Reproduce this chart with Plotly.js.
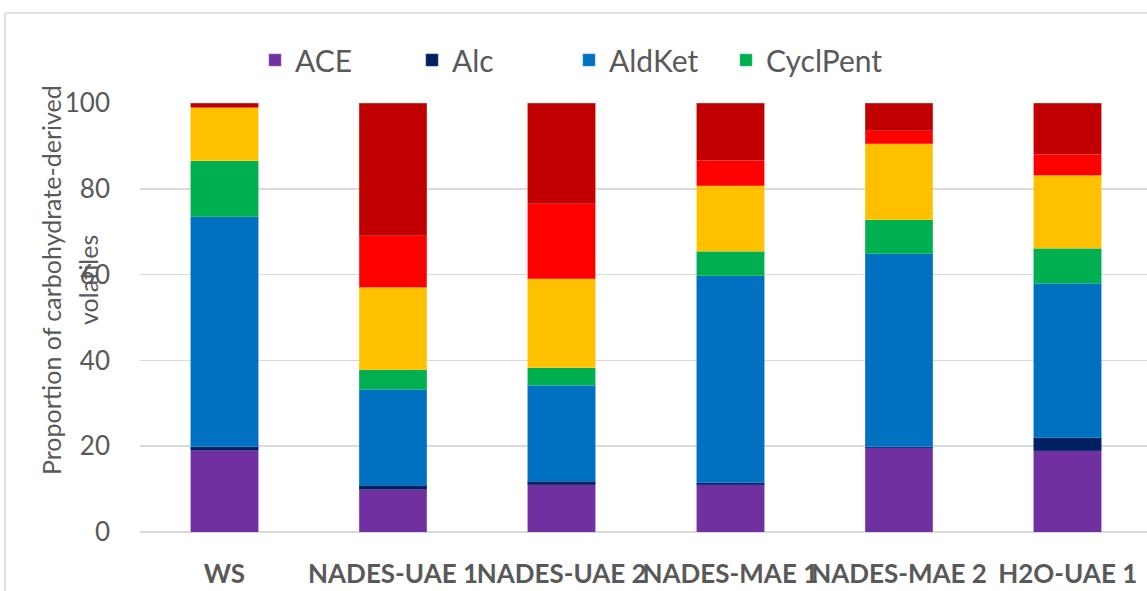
<!DOCTYPE html>
<html><head><meta charset="utf-8">
<script src="https://cdn.plot.ly/plotly-3.0.1.min.js"></script>
<style>html,body{margin:0;padding:0;background:#fff;overflow:hidden}#chart{width:1147px;height:591px}</style>
</head><body><div id="chart"></div>
<script>
const categories = ['WS', 'NADES-UAE 1', 'NADES-UAE 2', 'NADES-MAE 1', 'NADES-MAE 2', 'H2O-UAE 1'];
const ACE      = [19.1, 10.0, 11.0, 11.0, 19.6, 18.9];
const Alc      = [0.8, 0.9, 0.8, 0.5, 0.3, 3.1];
const AldKet   = [53.6, 22.4, 22.4, 48.2, 45.0, 36.0];
const CyclPent = [13.0, 4.5, 4.1, 5.8, 7.9, 8.2];
const Other1   = [12.5, 19.3, 20.7, 15.2, 17.7, 17.0];
const Other2   = [0.0, 12.0, 17.5, 5.9, 3.0, 4.8];
const Other3   = [1.0, 30.9, 23.5, 13.4, 6.5, 12.0];
const yTicks   = [0, 20, 40, 60, 80, 100];

const series = [
  {name:'ACE', y:ACE, color:'#7030A0', line:'#9a6cc0', legend:true},
  {name:'Alc', y:Alc, color:'#002060', line:'#2a4a8a', legend:true},
  {name:'AldKet', y:AldKet, color:'#0070C0', line:'#3a93d6', legend:true},
  {name:'CyclPent', y:CyclPent, color:'#00B050', line:'#40c880', legend:true},
  {name:'Other1', y:Other1, color:'#FFC000', line:'#ffd24d', legend:false},
  {name:'Other2', y:Other2, color:'#FF0000', line:'#ff5a5a', legend:false},
  {name:'Other3', y:Other3, color:'#C00000', line:'#d84a4a', legend:false}
];

const traces = series.map(s => ({
  type:'bar', name:s.name, x:categories, y:s.y, width:0.4,
  marker:{color:s.color, line:{color:s.line, width:0.6}},
  showlegend:s.legend, hoverinfo:'name+y'
}));

const W = 1007, H = 429;
const px = v => (v - 140) / W;
const py = v => (532 - v) / H;

const layout = {
  width:1147, height:591,
  margin:{l:140, r:0, t:103, b:59, pad:0},
  paper_bgcolor:'#ffffff', plot_bgcolor:'#ffffff',
  barmode:'stack', bargap:0.6,
  font:{family:'Lato, "Open Sans", sans-serif', color:'#595959'},
  showlegend:true,
  legend:{orientation:'h', x:px(255), y:py(60), xanchor:'left', yanchor:'middle',
    font:{size:30, color:'#595959', family:'Lato, sans-serif'},
    entrywidth:112, entrywidthmode:'pixels', traceorder:'normal', bgcolor:'rgba(0,0,0,0)'},
  xaxis:{type:'category', range:[-0.5, 5.47], showgrid:false, zeroline:false,
    showline:false, ticks:'', ticklabelstandoff:24, tickangle:0,
    tickfont:{size:26, color:'#595959', family:'Lato, sans-serif', weight:'bold'},
    fixedrange:true},
  yaxis:{range:[0, 100], tickvals:yTicks, ticktext:yTicks.map(String),
    showgrid:true, gridcolor:'#D9D9D9', gridwidth:1.5, zeroline:true,
    zerolinecolor:'#D9D9D9', zerolinewidth:1.5, showline:false, ticks:'',
    ticklabelstandoff:29, tickfont:{size:26, color:'#595959', family:'Lato, sans-serif'},
    fixedrange:true},
  annotations:[
    {text:'Proportion of carbohydrate-derived', textangle:-90, showarrow:false,
     xref:'paper', yref:'paper', x:px(51), y:py(280), xanchor:'center', yanchor:'middle',
     font:{size:25, color:'#595959', family:'Lato, sans-serif'}},
    {text:'volatiles', textangle:-90, showarrow:false,
     xref:'paper', yref:'paper', x:px(88), y:py(280), xanchor:'center', yanchor:'middle',
     font:{size:25, color:'#595959', family:'Lato, sans-serif'}}
  ],
  shapes:[
    {type:'line', xref:'paper', yref:'paper', x0:px(5), x1:px(1160), y0:py(13), y1:py(13),
     line:{color:'#D9D9D9', width:1.5}, layer:'below'},
    {type:'line', xref:'paper', yref:'paper', x0:px(5), x1:px(5), y0:py(13), y1:py(600),
     line:{color:'#D9D9D9', width:1.5}, layer:'below'}
  ]
};

Plotly.newPlot('chart', traces, layout, {displayModeBar:false, staticPlot:true});
</script></body></html>
